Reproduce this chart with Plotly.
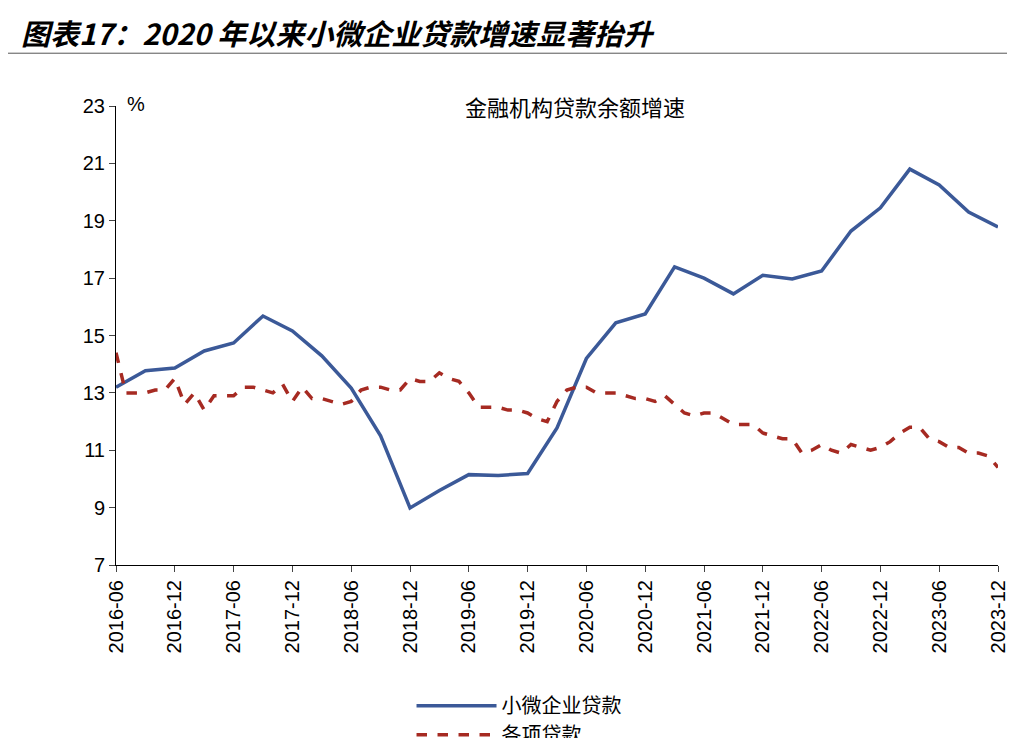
import pandas as pd
import plotly.graph_objects as go

months = pd.date_range('2016-06-01', '2023-12-01', freq='MS')
month_idx = list(range(len(months)))
tick_idx = month_idx[::6]
tick_txt = [d.strftime('%Y-%m') for d in months[::6]]

# small business loans, quarterly
small_loans = [13.2, 13.77, 13.87, 14.46, 14.74, 15.68, 15.16, 14.29, 13.17, 11.5, 8.99,
               9.6, 10.15, 10.12, 10.19, 11.78, 14.2, 15.44, 15.75, 17.39, 17.0, 16.45,
               17.1, 16.97, 17.25, 18.64, 19.45, 20.8, 20.25, 19.3, 18.78]
small_idx = month_idx[::3]

# all loans, monthly
all_loans = [14.4, 13.0, 13.0, 13.0, 13.1, 13.1, 13.5,
             12.6, 13.0, 12.4, 12.9, 12.9, 12.9, 13.2, 13.2, 13.1, 13.0, 13.3, 12.7,
             13.2, 12.8, 12.8, 12.7, 12.6, 12.7, 13.1, 13.2, 13.2, 13.1, 13.1, 13.5,
             13.4, 13.4, 13.7, 13.5, 13.4, 13.0, 12.5, 12.5, 12.5, 12.4, 12.4, 12.3,
             12.1, 12.0, 12.7, 13.1, 13.2, 13.2, 13.0, 13.0, 13.0, 12.9, 12.8, 12.8,
             12.7, 12.9, 12.6, 12.3, 12.2, 12.3, 12.3, 12.1, 11.9, 11.9, 11.9, 11.6,
             11.5, 11.4, 11.4, 10.9, 11.0, 11.2, 11.0, 10.9, 11.2, 11.1, 11.0, 11.1,
             11.3, 11.6, 11.8, 11.8, 11.4, 11.3, 11.1, 11.1, 10.9, 10.9, 10.8, 10.4]

font = 'Noto Sans CJK SC'
fig = go.Figure()
fig.add_trace(go.Scatter(x=small_idx, y=small_loans, mode='lines', name='小微企业贷款',
                         line=dict(color='#3B5998', width=3.5)))
fig.add_trace(go.Scatter(x=month_idx, y=all_loans, mode='lines', name='各项贷款',
                         line=dict(color='#A62A22', width=3.5, dash='dash')))

fig.update_layout(
    width=1015, height=738, plot_bgcolor='white', paper_bgcolor='white',
    margin=dict(l=108, r=25, t=98, b=181, autoexpand=False),
    font=dict(family=font, color='black', size=20),
    showlegend=True,
    legend=dict(orientation='h', x=0.61, xanchor='center', y=-0.338, yanchor='middle',
                font=dict(size=20), itemwidth=80, entrywidthmode='pixels', entrywidth=390),
    xaxis=dict(range=[0, len(months) - 1], tickvals=tick_idx, ticktext=tick_txt, tickangle=-90,
               showline=True, linecolor='black', linewidth=1, ticks='outside', ticklen=6,
               showgrid=False, zeroline=False, automargin=False,
               tickfont=dict(family='Arial', size=20)),
    yaxis=dict(range=[7, 23], tickvals=list(range(7, 24, 2)), showline=True, linecolor='black',
               linewidth=1, ticks='outside', ticklen=6, showgrid=False, zeroline=False,
               automargin=False, tickfont=dict(family='Arial', size=20)),
)
fig.add_annotation(text='<b><i>图表17：2020 年以来小微企业贷款增速显著抬升</i></b>', xref='paper', yref='paper',
                   x=-0.11, y=1.162, xanchor='left', yanchor='middle', showarrow=False,
                   font=dict(size=29, family=font))
fig.add_shape(type='line', xref='paper', yref='paper', x0=-0.123, x1=1.03, y0=1.115, y1=1.115,
              line=dict(color='#555555', width=1))
fig.add_annotation(text='金融机构贷款余额增速', xref='paper', yref='paper', x=0.52, y=1.0,
                   xanchor='center', yanchor='middle', showarrow=False, font=dict(size=22))
fig.add_annotation(text='%', xref='paper', yref='paper', x=0.01, y=1.005, xanchor='left',
                   yanchor='middle', showarrow=False, font=dict(size=20, family='Arial'))

fig.write_html('out.html')
